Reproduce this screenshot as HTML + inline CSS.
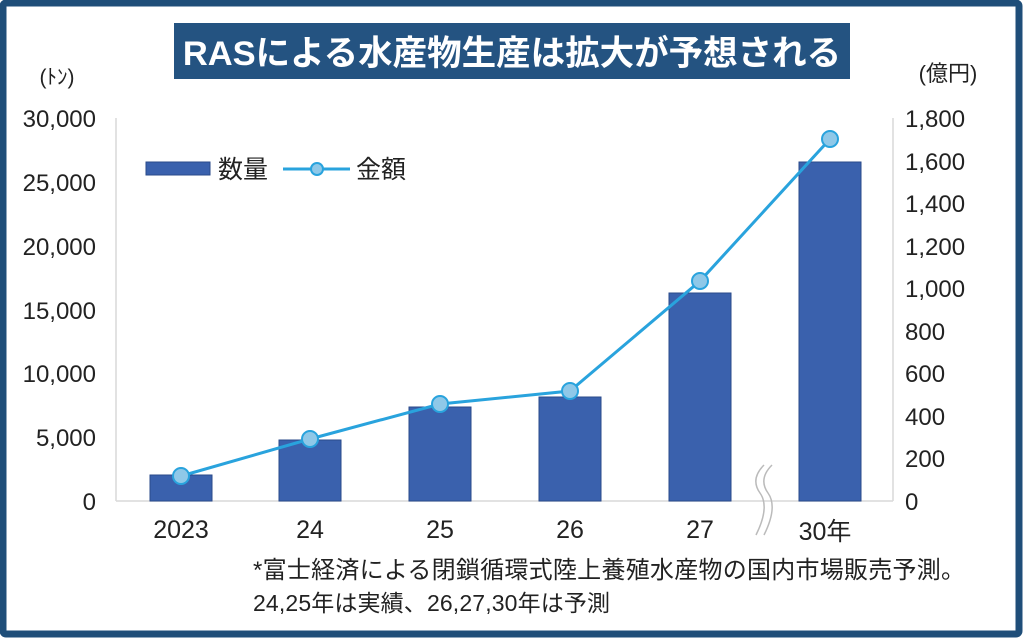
<!DOCTYPE html>
<html><head><meta charset="utf-8"><style>
body{margin:0;width:1024px;height:639px;overflow:hidden;background:#fff}
text{font-family:"Liberation Sans","Noto Sans CJK JP",sans-serif}
</style></head><body>
<svg width="1024" height="639" xmlns="http://www.w3.org/2000/svg">
<rect x="3" y="3" width="1016" height="631" fill="#fff" stroke="#1f4e79" stroke-width="7" rx="3"/>
<rect x="174" y="23" width="676" height="56" fill="#245381"/>
<text x="512" y="65" text-anchor="middle" fill="#fff" font-size="34.5" font-weight="bold">RASによる水産物生産は拡大が予想される</text>
<text x="57" y="84" text-anchor="middle" font-size="21" fill="#222">(ﾄﾝ)</text>
<text x="948" y="81" text-anchor="middle" font-size="22" fill="#222">(億円)</text>
<g stroke="#d9d9d9" stroke-width="1.5" fill="none">
<line x1="116" y1="118" x2="116" y2="501"/><line x1="893" y1="118" x2="893" y2="501"/>
<line x1="116" y1="501" x2="893" y2="501"/>
</g>
<g font-size="24" fill="#222" text-anchor="end">
<text x="96" y="127">30,000</text><text x="96" y="191">25,000</text><text x="96" y="255">20,000</text>
<text x="96" y="319">15,000</text><text x="96" y="382">10,000</text><text x="96" y="446">5,000</text><text x="96" y="510">0</text>
</g>
<g font-size="24" fill="#222">
<text x="905" y="127">1,800</text><text x="905" y="170">1,600</text><text x="905" y="212">1,400</text>
<text x="905" y="255">1,200</text><text x="905" y="297">1,000</text><text x="905" y="340">800</text>
<text x="905" y="382">600</text><text x="905" y="425">400</text><text x="905" y="467">200</text><text x="905" y="510">0</text>
</g>
<g fill="#3a61ad" stroke="#2a4a8a" stroke-width="1">
<rect x="150" y="475" width="62" height="26"/><rect x="279" y="440" width="62" height="61"/>
<rect x="409" y="407" width="62" height="94"/><rect x="539" y="397" width="62" height="104"/>
<rect x="669" y="293" width="62" height="208"/><rect x="799" y="162" width="62" height="339"/>
</g>
<path d="M764 465 q-14 14 -4 28 q10 14 -4 42 M772 465 q-14 14 -4 28 q10 14 -4 42" stroke="#bbb" stroke-width="1.5" fill="none"/>
<polyline points="181,476 310,439 440,404 570,391 700,281 830,139" fill="none" stroke="#29a3dd" stroke-width="3"/>
<g fill="#8fc8e8" stroke="#29a3dd" stroke-width="2">
<circle cx="181" cy="476" r="8"/><circle cx="310" cy="439" r="8"/><circle cx="440" cy="404" r="8"/>
<circle cx="570" cy="391" r="8"/><circle cx="700" cy="281" r="8"/><circle cx="830" cy="139" r="8"/>
</g>
<g font-size="25" fill="#222" text-anchor="middle">
<text x="181" y="538">2023</text><text x="310" y="538">24</text><text x="440" y="538">25</text>
<text x="570" y="538">26</text><text x="700" y="538">27</text><text x="825" y="540">30年</text>
</g>
<rect x="146" y="162" width="64" height="13" fill="#3a61ad" stroke="#2a4a8a"/>
<text x="218" y="178" font-size="25" fill="#222">数量</text>
<line x1="283" y1="169" x2="350" y2="169" stroke="#29a3dd" stroke-width="3"/>
<circle cx="317" cy="169" r="6" fill="#8fc8e8" stroke="#29a3dd" stroke-width="2"/>
<text x="356" y="178" font-size="25" fill="#222">金額</text>
<text x="253" y="578" font-size="24" fill="#222" textLength="712">*富士経済による閉鎖循環式陸上養殖水産物の国内市場販売予測。</text>
<text x="253" y="611" font-size="23" fill="#222" textLength="357">24,25年は実績、26,27,30年は予測</text>
</svg>
</body></html>
